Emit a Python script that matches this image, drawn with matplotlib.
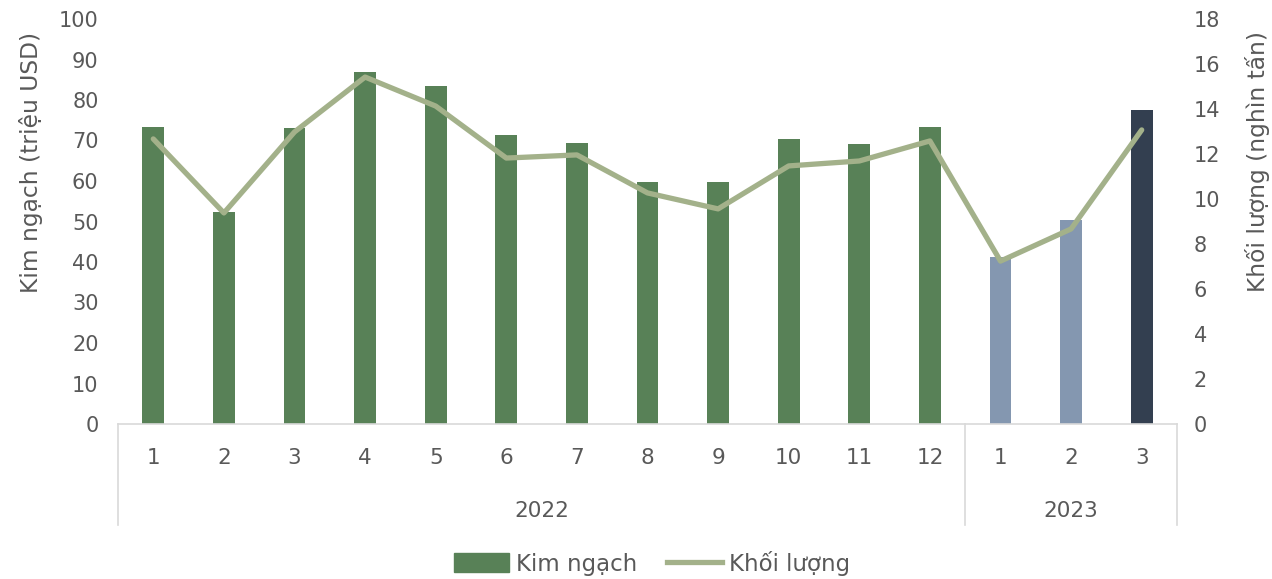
import numpy as np
import matplotlib
matplotlib.use("Agg")
import matplotlib.pyplot as plt
from matplotlib.patches import Patch
from matplotlib.lines import Line2D
import matplotlib.transforms as mtransforms

# === Daten ===
thang = ["1", "2", "3", "4", "5", "6", "7", "8", "9", "10", "11", "12", "1", "2", "3"]
nam = ["2022", "2023"]
nam_so_thang = [12, 3]
kim_ngach = [73.3, 52.3, 73.1, 86.9, 83.5, 71.4, 69.4, 59.8, 59.8, 70.4, 69.1, 73.3, 41.2, 50.4, 77.5]
khoi_luong = [12.67, 9.38, 12.98, 15.42, 14.13, 11.82, 11.96, 10.27, 9.56, 11.47, 11.69, 12.58, 7.24, 8.67, 13.07]
mau_cot = ["#588157"] * 12 + ["#8497B0", "#8497B0", "#333F50"]

mau_chu = "#595959"
mau_truc = "#D9D9D9"

fig = plt.figure(figsize=(12.72, 5.79), dpi=100)
ax = fig.add_axes([118 / 1272, (579 - 424) / 579, (1177 - 118) / 1272, 405 / 579])
ax2 = ax.twinx()

x = np.arange(len(thang))
ax.bar(x, kim_ngach, width=0.31, color=mau_cot, zorder=2)
ax2.plot(x, khoi_luong, color="#A3B18A", lw=3.8, solid_capstyle="round", solid_joinstyle="round", zorder=3)

ax.set_xlim(-0.5, len(thang) - 0.5)
ax.set_ylim(0, 100)
ax2.set_ylim(0, 18)
ax.set_yticks(np.arange(0, 101, 10))
ax2.set_yticks(np.arange(0, 19, 2))

for a in (ax, ax2):
    for s in a.spines.values():
        s.set_visible(False)
    a.tick_params(axis="both", length=0, colors=mau_chu, labelsize=15)
ax.spines["bottom"].set_visible(True)
ax.spines["bottom"].set_color(mau_truc)
ax.spines["bottom"].set_linewidth(1.2)
ax.tick_params(axis="y", pad=14)
ax2.tick_params(axis="y", pad=12)
ax.set_xticks([])

ax.set_ylabel("Kim ngạch (triệu USD)", fontsize=16.8, color=mau_chu)
ax2.set_ylabel("Khối lượng (nghìn tấn)", fontsize=16.8, color=mau_chu)
ax.yaxis.set_label_coords((43 - 118) / 1059, (424 - 162) / 405)
ax2.yaxis.set_label_coords((1245 - 118) / 1059, (424 - 162) / 405)

# Nhãn trục x nhiều cấp
trans = mtransforms.blended_transform_factory(ax.transData, ax.transAxes)
for i, t in enumerate(thang):
    ax.text(i, -34 / 405, t, transform=trans, ha="center", va="center",
            fontsize=15.5, color=mau_chu)
bien = -0.5
ranh_gioi = [bien]
for ten, n in zip(nam, nam_so_thang):
    ax.text(bien + n / 2, -87 / 405, ten, transform=trans, ha="center", va="center",
            fontsize=15.5, color=mau_chu)
    bien += n
    ranh_gioi.append(bien)
for b in ranh_gioi:
    ax.plot([b, b], [0, -101 / 405], transform=trans, color=mau_truc, lw=1.2, clip_on=False)

handles = [Patch(color="#588157"), Line2D([0], [0], color="#A3B18A", lw=3.8)]
fig.legend(handles, ["Kim ngạch", "Khối lượng"], loc="center", bbox_to_anchor=(652 / 1272, 1 - 563 / 579),
           ncol=2, frameon=False, fontsize=16.5, labelcolor=mau_chu,
           handlelength=2.4, handleheight=0.9, handletextpad=0.3, columnspacing=1.3)

fig.savefig("out.png", dpi=100)
